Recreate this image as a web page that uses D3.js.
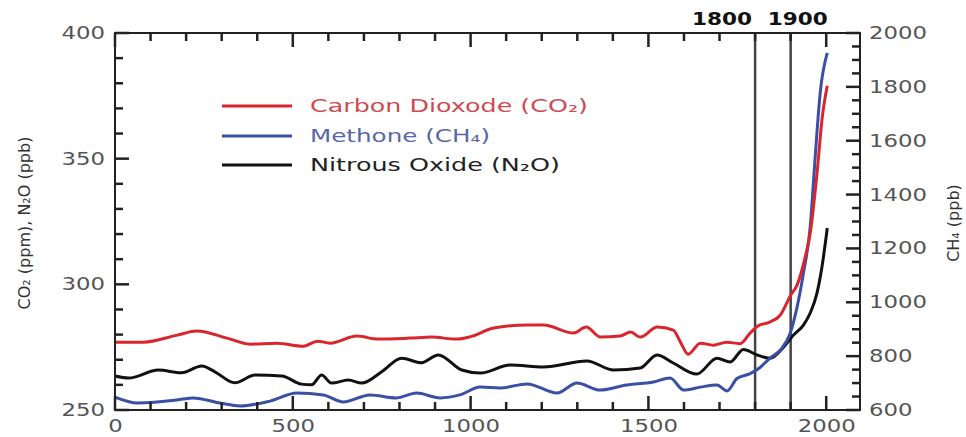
<!DOCTYPE html>
<meta charset="utf-8">

<!-- Load d3.js -->
<script src="https://d3js.org/d3.v7.min.js"></script>

<style>
  body { margin: 0; background: #fff; }
  text { font-family: "DejaVu Sans", sans-serif; }
</style>

<!-- Create a div where the graph will take place -->
<div id="my_dataviz"></div>

<script>

// data
var co2Years  = [0, 80, 175, 230, 315, 380, 455, 530, 570, 605, 680, 740, 830, 890, 960, 1000, 1065, 1160, 1205, 1290, 1325, 1365, 1420, 1450, 1477, 1525, 1570, 1590, 1612, 1646, 1683, 1720, 1758, 1786, 1808, 1842, 1871, 1900, 1918, 1941, 1955, 1974, 1989, 2003];
var co2Values = [277.0, 277.0, 279.8, 281.4, 278.6, 276.2, 276.6, 275.4, 277.4, 276.6, 279.4, 278.2, 278.6, 279.0, 278.2, 279.2, 282.6, 283.8, 283.8, 280.6, 283.0, 279.0, 279.4, 281.0, 279.0, 283.0, 281.8, 277.0, 272.2, 276.6, 275.8, 277.0, 276.4, 280.6, 283.4, 285.0, 287.8, 295.7, 299.7, 310.9, 320.4, 344.0, 366.6, 379.0];

var ch4Years  = [0, 63, 174, 220, 295, 352, 436, 511, 586, 642, 717, 792, 848, 914, 970, 1027, 1083, 1159, 1243, 1299, 1364, 1439, 1514, 1561, 1599, 1646, 1693, 1721, 1749, 1786, 1814, 1842, 1871, 1899, 1918, 1936, 1955, 1969, 1983, 2003];
var ch4Values = [648, 626, 637, 645, 626, 615, 633, 663, 656, 630, 656, 645, 663, 645, 656, 685, 682, 697, 663, 700, 674, 693, 704, 719, 674, 685, 693, 671, 717, 735, 758, 793, 823, 886, 982, 1109, 1280, 1540, 1777, 1926];

var n2oYears  = [0, 38, 122, 187, 244, 281, 337, 394, 469, 524, 553, 581, 609, 656, 694, 750, 806, 862, 909, 975, 1027, 1111, 1205, 1327, 1402, 1477, 1524, 1570, 1636, 1693, 1730, 1767, 1806, 1842, 1880, 1908, 1936, 1955, 1974, 1988, 2003];
var n2oValues = [263.5, 262.7, 265.9, 264.8, 267.5, 265.2, 260.8, 263.9, 263.5, 260.3, 260.0, 263.9, 260.7, 261.9, 260.7, 265.2, 270.6, 268.8, 271.9, 265.9, 264.7, 267.9, 267.1, 269.5, 265.9, 266.7, 271.9, 268.7, 264.3, 270.6, 269.1, 274.1, 271.9, 270.6, 275.0, 279.8, 283.8, 288.6, 296.5, 306.9, 322.4];

var leftTicks  = [250, 300, 350, 400];
var rightTicks = [600, 800, 1000, 1200, 1400, 1600, 1800, 2000];
var xTicks     = [0, 500, 1000, 1500, 2000];
var markYears  = [1800, 1900];

var legendNames = ["Carbon Dioxode (CO₂)", "Methone (CH₄)", "Nitrous Oxide (N₂O)"];

// set the dimensions and margins of the graph
var margin = {top: 33, right: 106, bottom: 27, left: 115},
    width = 966 - margin.left - margin.right,
    height = 437 - margin.top - margin.bottom;

var svg = d3.select("#my_dataviz")
  .append("svg")
    .attr("width", width + margin.left + margin.right)
    .attr("height", height + margin.top + margin.bottom)
  .append("g")
    .attr("transform", "translate(" + margin.left + "," + margin.top + ")");

// scales
var x = d3.scaleLinear().domain([0, 2095]).range([0, width]);
var yL = d3.scaleLinear().domain([250, 400]).range([height, 0]);
var yR = d3.scaleLinear().domain([600, 2000]).range([height, 0]);

var labelColor = "#555";
var axisColor = "#222";
var fmt = d3.format("d");

// tick labels come from d3 axes (no tick lines, no domain)
function styleAxis(g) {
  g.select(".domain").remove();
  g.selectAll(".tick line").remove();
  g.selectAll(".tick text")
    .attr("fill", labelColor)
    .style("font-size", "17px")
    .attr("textLength", function(d) { return fmt(d).length * 14.5; })
    .attr("lengthAdjust", "spacingAndGlyphs");
}

svg.append("g")
  .call(d3.axisLeft(yL).tickValues(leftTicks).tickSize(0).tickPadding(10).tickFormat(fmt))
  .call(styleAxis);
svg.append("g")
  .attr("transform", "translate(" + width + ",0)")
  .call(d3.axisRight(yR).tickValues(rightTicks).tickSize(0).tickPadding(9).tickFormat(fmt))
  .call(styleAxis);
svg.append("g")
  .attr("transform", "translate(0," + height + ")")
  .call(d3.axisBottom(x).tickValues(xTicks).tickSize(0).tickPadding(10).tickFormat(fmt))
  .call(styleAxis);

// 1800 / 1900 lines
svg.selectAll(".mark")
  .data(markYears)
  .enter()
  .append("line")
    .attr("x1", function(d) { return x(d); })
    .attr("x2", function(d) { return x(d); })
    .attr("y1", 0)
    .attr("y2", height)
    .attr("stroke", "#444")
    .attr("stroke-width", 2.5);

svg.selectAll(".markLabel")
  .data(markYears)
  .enter()
  .append("text")
    .attr("x", function(d, i) { return i == 0 ? x(d) - 63 : x(d) - 23; })
    .attr("y", -14)
    .attr("dy", "0.35em")
    .attr("textLength", 60)
    .attr("lengthAdjust", "spacingAndGlyphs")
    .style("font-size", "17px")
    .style("font-weight", "bold")
    .attr("fill", "#111")
    .text(function(d) { return d; });

// the lines
var lineFor = function(yScale) {
  return d3.line()
    .curve(d3.curveMonotoneX)
    .x(function(d) { return x(d[0]); })
    .y(function(d) { return yScale(d[1]); });
};

var series = [
  {years: co2Years, values: co2Values, scale: yL, color: "#d8262c", text: "#cf4a52"},
  {years: ch4Years, values: ch4Values, scale: yR, color: "#3a4fa6", text: "#5a66a8"},
  {years: n2oYears, values: n2oValues, scale: yL, color: "#111111", text: "#222"}
];

// draw black first, then blue, then red on top
[2, 1, 0].forEach(function(i) {
  var s = series[i];
  svg.append("path")
    .datum(d3.zip(s.years, s.values))
    .attr("fill", "none")
    .attr("stroke", s.color)
    .attr("stroke-width", 3)
    .attr("stroke-linejoin", "round")
    .attr("d", lineFor(s.scale));
});

// legend
var legendY = [73, 103, 132];
var legendW = [278, 180, 250];
series.forEach(function(s, i) {
  svg.append("line")
    .attr("x1", 107).attr("x2", 177)
    .attr("y1", legendY[i]).attr("y2", legendY[i])
    .attr("stroke", s.color)
    .attr("stroke-width", 3);
  svg.append("text")
    .attr("x", 195)
    .attr("y", legendY[i])
    .attr("dy", "0.35em")
    .attr("textLength", legendW[i])
    .attr("lengthAdjust", "spacingAndGlyphs")
    .style("font-size", "17px")
    .attr("fill", s.text)
    .text(legendNames[i]);
});

// axis titles
svg.append("text")
  .attr("transform", "translate(" + (24 - margin.left) + "," + (223 - margin.top) + ") rotate(-90)")
  .attr("text-anchor", "middle")
  .attr("dy", "0.35em")
  .style("font-size", "16px")
  .attr("fill", "#333")
  .text("CO₂ (ppm), N₂O (ppb)");

svg.append("text")
  .attr("transform", "translate(" + (953 - margin.left) + "," + (223 - margin.top) + ") rotate(-90)")
  .attr("text-anchor", "middle")
  .attr("dy", "0.35em")
  .style("font-size", "16px")
  .attr("fill", "#333")
  .text("CH₄ (ppb)");

// frame
svg.append("rect")
  .attr("width", width)
  .attr("height", height)
  .attr("fill", "none")
  .attr("stroke", axisColor)
  .attr("stroke-width", 2);

// inward ticks on all four sides, drawn last (IDL look)
var tickSides = [
  {values: d3.range(250, 401, 10), major: leftTicks, scale: yL, side: "left"},
  {values: d3.range(600, 2001, 50), major: rightTicks, scale: yR, side: "right"},
  {values: d3.range(0, 2001, 100), major: xTicks, scale: x, side: "bottom"},
  {values: d3.range(0, 2001, 100), major: xTicks, scale: x, side: "top"}
];

tickSides.forEach(function(t) {
  svg.append("g")
    .selectAll("line")
    .data(t.values)
    .enter()
    .append("line")
      .attr("stroke", axisColor)
      .attr("stroke-width", 2.5)
      .each(function(d) {
        var len = t.major.indexOf(d) >= 0 ? 14 : 8;
        var p = t.scale(d);
        var l = d3.select(this);
        if (t.side == "left")   l.attr("x1", 0).attr("x2", len).attr("y1", p).attr("y2", p);
        if (t.side == "right")  l.attr("x1", width).attr("x2", width - len).attr("y1", p).attr("y2", p);
        if (t.side == "bottom") l.attr("x1", p).attr("x2", p).attr("y1", height).attr("y2", height - len);
        if (t.side == "top")    l.attr("x1", p).attr("x2", p).attr("y1", 0).attr("y2", len);
      });
});

</script>
